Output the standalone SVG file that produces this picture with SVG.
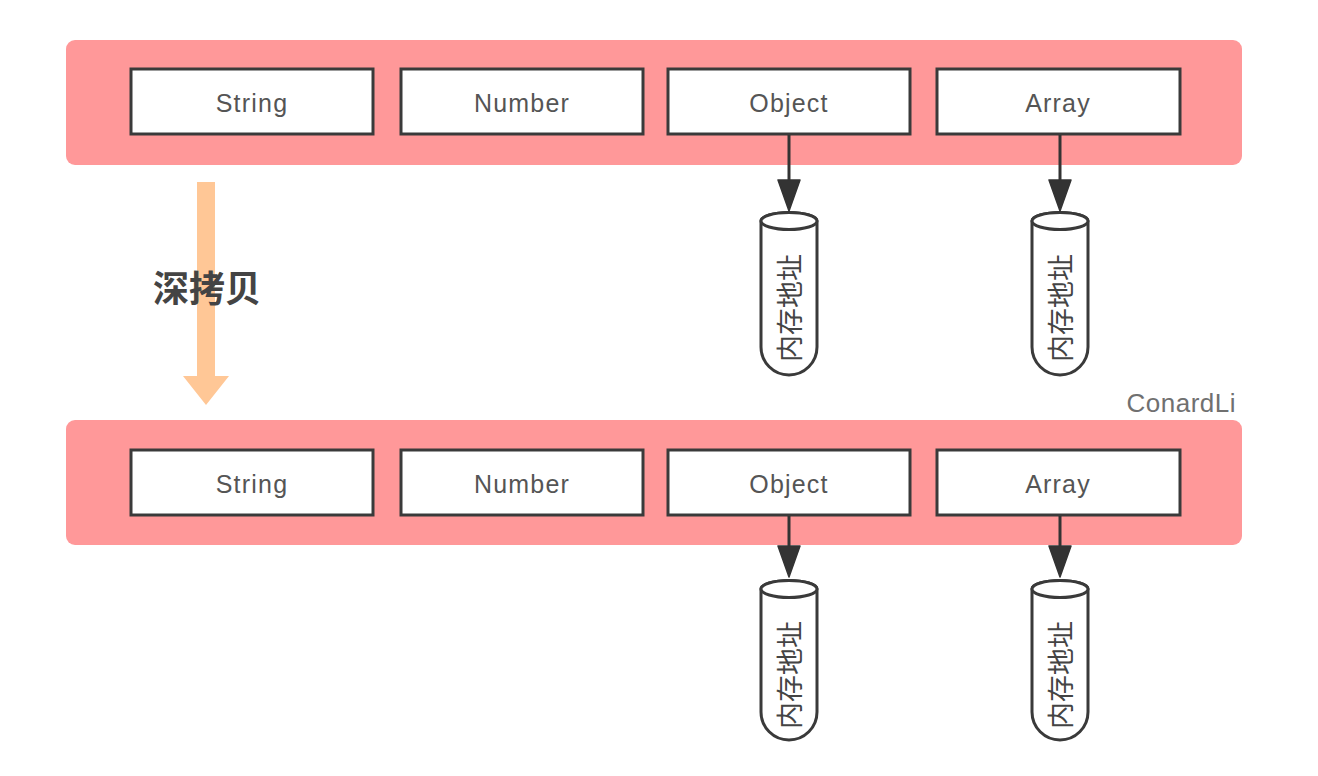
<svg xmlns="http://www.w3.org/2000/svg" width="1318" height="776" viewBox="0 0 1318 776">
<style>
.band{fill:#ff9899;}
.box{fill:#ffffff;stroke:#3a3a3a;stroke-width:3;}
.lbl{font-family:"Liberation Sans",Arial,sans-serif;font-size:25px;letter-spacing:1.2px;fill:#555;text-anchor:middle;}
.cyl{fill:#ffffff;stroke:#3a3a3a;stroke-width:3;}
.vt{font-family:"Noto Sans CJK SC",sans-serif;font-size:27px;fill:#444;text-anchor:middle;}
.conn{stroke:#333;stroke-width:3;fill:none;}
.head{fill:#333;stroke:#333;stroke-width:1.5;stroke-linejoin:round;}
</style>
<rect width="1318" height="776" fill="#ffffff"/>
<g id="top-band">
<rect class="band" x="66" y="40" width="1176" height="125" rx="9"/>
</g>
<g id="bottom-band">
<rect class="band" x="66" y="420" width="1176" height="125" rx="9"/>
</g>
<g id="top-string"><rect class="box" x="131" y="69" width="242" height="65"/><text class="lbl" x="252" y="112">String</text></g>
<g id="top-number"><rect class="box" x="401" y="69" width="242" height="65"/><text class="lbl" x="522" y="112">Number</text></g>
<g id="top-object"><rect class="box" x="668" y="69" width="242" height="65"/><text class="lbl" x="789" y="112">Object</text></g>
<g id="top-array"><rect class="box" x="937" y="69" width="243" height="65"/><text class="lbl" x="1058" y="112">Array</text></g>
<g id="bot-string"><rect class="box" x="131" y="450" width="242" height="65"/><text class="lbl" x="252" y="493">String</text></g>
<g id="bot-number"><rect class="box" x="401" y="450" width="242" height="65"/><text class="lbl" x="522" y="493">Number</text></g>
<g id="bot-object"><rect class="box" x="668" y="450" width="242" height="65"/><text class="lbl" x="789" y="493">Object</text></g>
<g id="bot-array"><rect class="box" x="937" y="450" width="243" height="65"/><text class="lbl" x="1058" y="493">Array</text></g>

<g id="cyl-top-object">
<path class="cyl" d="M761,221 L761,347 A28,28 0 0 0 817,347 L817,221 A28,8.5 0 0 0 761,221 Z"/>
<ellipse class="cyl" cx="789" cy="221" rx="28" ry="8.5"/>
<text class="vt" transform="translate(800,308) rotate(-90)">内存地址</text>
</g>
<g id="cyl-top-array">
<path class="cyl" d="M1032,221 L1032,347 A28,28 0 0 0 1088,347 L1088,221 A28,8.5 0 0 0 1032,221 Z"/>
<ellipse class="cyl" cx="1060" cy="221" rx="28" ry="8.5"/>
<text class="vt" transform="translate(1071,308) rotate(-90)">内存地址</text>
</g>
<g id="cyl-bot-object">
<path class="cyl" d="M761,589 L761,712 A28,28 0 0 0 817,712 L817,589 A28,8.5 0 0 0 761,589 Z"/>
<ellipse class="cyl" cx="789" cy="589" rx="28" ry="8.5"/>
<text class="vt" transform="translate(800,675) rotate(-90)">内存地址</text>
</g>
<g id="cyl-bot-array">
<path class="cyl" d="M1032,589 L1032,712 A28,28 0 0 0 1088,712 L1088,589 A28,8.5 0 0 0 1032,589 Z"/>
<ellipse class="cyl" cx="1060" cy="589" rx="28" ry="8.5"/>
<text class="vt" transform="translate(1071,675) rotate(-90)">内存地址</text>
</g>

<g id="connectors">
<line class="conn" x1="789" y1="135" x2="789" y2="186"/>
<path class="head" d="M778,180 L800,180 L789,211 Z"/>
<line class="conn" x1="1060" y1="135" x2="1060" y2="186"/>
<path class="head" d="M1049,180 L1071,180 L1060,211 Z"/>
<line class="conn" x1="789" y1="516" x2="789" y2="550"/>
<path class="head" d="M778,546 L800,546 L789,577 Z"/>
<line class="conn" x1="1060" y1="516" x2="1060" y2="550"/>
<path class="head" d="M1049,546 L1071,546 L1060,577 Z"/>
</g>

<g id="deep-copy">
<path d="M197,182 L215,182 L215,376 L229,376 L206,405 L183,376 L197,376 Z" fill="#ffc796"/>
<text x="207" y="302" font-family="'Noto Sans CJK SC',sans-serif" font-size="36" font-weight="bold" fill="#444" text-anchor="middle">深拷贝</text>
</g>
<g id="watermark">
<text x="1236" y="412" font-family="'Liberation Sans',Arial,sans-serif" font-size="26" letter-spacing="0.5" fill="#707070" text-anchor="end">ConardLi</text>
</g>
</svg>
